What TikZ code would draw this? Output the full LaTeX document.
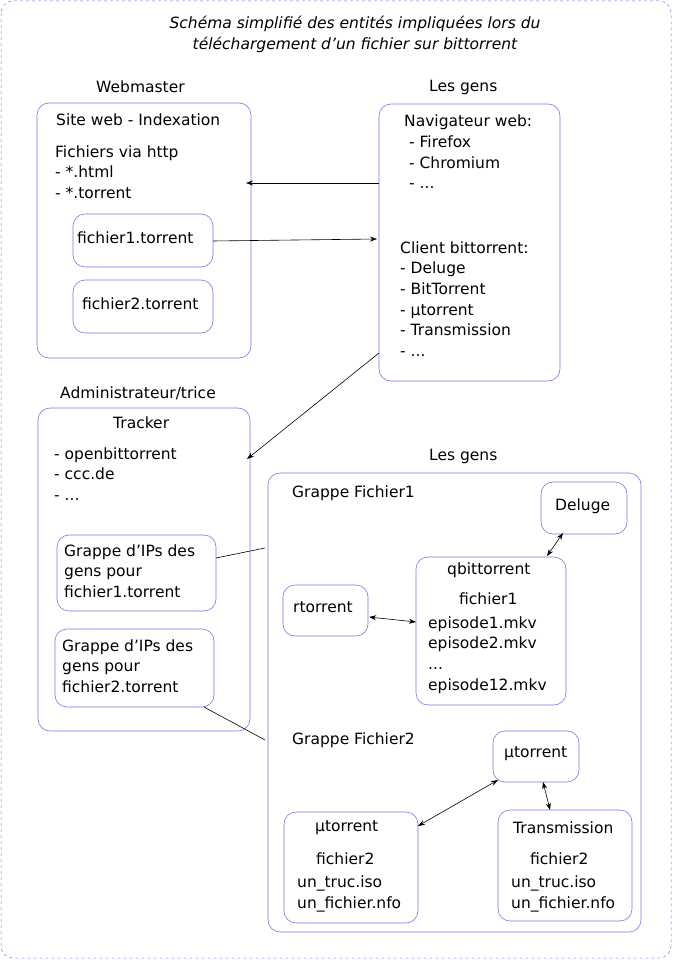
\documentclass[tikz,border=0pt]{standalone}
\usepackage{fontspec}
\setmainfont{DejaVu Sans}[Ligatures=ResetAll]
\usetikzlibrary{arrows.meta}
\definecolor{bx}{RGB}{120,120,230}
\begin{document}
\begin{tikzpicture}[x=1pt,y=-1pt,
 box/.style={draw=bx,rounded corners=12pt,line width=0.6pt},
 t/.style={anchor=west,inner sep=0,font=\fontsize{15.5}{20.6}\selectfont,align=left},
 ar/.style={-{Stealth[length=7pt,width=5pt]},line width=0.6pt},
 dar/.style={{Stealth[length=7pt,width=5pt]}-{Stealth[length=7pt,width=5pt]},line width=0.6pt},
 ln/.style={line width=0.6pt}]
\useasboundingbox (0,0) rectangle (673,960);
\draw[bx,dashed,rounded corners=12pt,line width=0.5pt] (1,1) rectangle (671,958);
\node[font=\itshape\fontsize{15.5}{21}\selectfont,align=center] (title) at (355,34) {Schéma simplifié des entités impliquées lors du\\téléchargement d'un fichier sur bittorrent};
% boxes
\draw[box] (37,103) rectangle (251,358);
\draw[box] (73,214) rectangle (213,267);
\draw[box] (73,280) rectangle (213,333);
\draw[box] (379,104) rectangle (560,381);
\draw[box] (38,408) rectangle (250,731);
\draw[box] (57,535) rectangle (216,611);
\draw[box] (55,629) rectangle (214,707);
\draw[box] (268,473) rectangle (641,932);
\draw[box] (541,482) rectangle (627,534);
\draw[box] (416,557) rectangle (566,705);
\draw[box] (283,585) rectangle (368,636);
\draw[box] (493,731) rectangle (579,782);
\draw[box] (284,812) rectangle (418,923);
\draw[box] (498,810) rectangle (632,921);
% texts
\node[t] (wm) at (96,87) {Webmaster};
\node[t] (lg1) at (429,87) {Les gens};
\node[t] (sw) at (56,120) {Site web - Indexation};
\node[t] (fh) at (55,172) {Fichiers via http\\- *.html\\- *.torrent};
\node[t] (f1) at (77,238) {fichier1.torrent};
\node[t] (f2) at (82,304) {fichier2.torrent};
\node[t] (nav) at (404,152) {Navigateur web:\\\ - Firefox\\\ - Chromium\\\ - ...};
\node[t] (cli) at (400,299) {Client bittorrent:\\- Deluge\\- BitTorrent\\- µtorrent\\- Transmission\\- ...};
\node[t] (adm) at (60,393) {Administrateur/trice};
\node[t] (tr) at (113,423) {Tracker};
\node[t] (trl) at (54,474) {- openbittorrent\\- ccc.de\\- ...};
\node[t] (g1) at (64,571) {Grappe d'IPs des\\gens pour\\fichier1.torrent};
\node[t] (g2) at (62,666) {Grappe d'IPs des\\gens pour\\fichier2.torrent};
\node[t] (lg2) at (429,456) {Les gens};
\node[t] (gf1) at (292,493) {Grappe Fichier1};
\node[t] (del) at (555,506) {Deluge};
\node[t] (qb) at (447,570) {qbittorrent};
\node[t] (qf) at (459,599) {fichier1};
\node[t] (qe) at (428,655) {episode1.mkv\\episode2.mkv\\...\\episode12.mkv};
\node[t] (rt) at (293,607) {rtorrent};
\node[t] (gf2) at (292,740) {Grappe Fichier2};
\node[t] (mu) at (504,754) {µtorrent};
\node[t] (mub) at (315,828) {µtorrent};
\node[t] (mubf) at (316,859) {fichier2};
\node[t] (mubl) at (297,894) {un\_truc.iso\\un\_fichier.nfo};
\node[t] (trm) at (513,828) {Transmission};
\node[t] (trmf) at (530,859) {fichier2};
\node[t] (trml) at (511,894) {un\_truc.iso\\un\_fichier.nfo};
% connectors
\coordinate (a1) at (379,183); \coordinate (a2) at (246,183);
\coordinate (b1) at (213,241); \coordinate (b2) at (377,239);
\coordinate (c1) at (379,353); \coordinate (c2) at (247,459);
\coordinate (d1) at (216,558); \coordinate (d2) at (265,548);
\coordinate (e1) at (204,707); \coordinate (e2) at (265,740);
\coordinate (p1) at (547,556); \coordinate (p2) at (563,533);
\coordinate (q1) at (369,617); \coordinate (q2) at (416,622);
\coordinate (r1) at (418,826); \coordinate (r2) at (498,780);
\coordinate (s1) at (543,782); \coordinate (s2) at (550,810);
\draw[ar] (a1) -- (a2);
\draw[ar] (b1) -- (b2);
\draw[ar] (c1) -- (c2);
\draw[ln] (d1) -- (d2);
\draw[ln] (e1) -- (e2);
\draw[dar] (p1) -- (p2);
\draw[dar] (q1) -- (q2);
\draw[dar] (r1) -- (r2);
\draw[dar] (s1) -- (s2);
\end{tikzpicture}
\end{document}
